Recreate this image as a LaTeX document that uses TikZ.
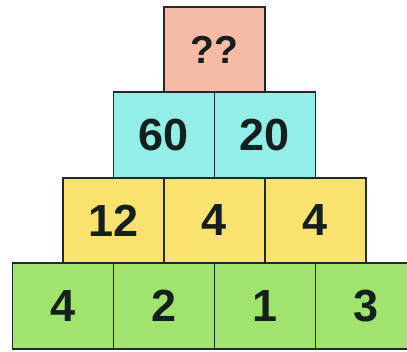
\documentclass[tikz,border=0pt]{standalone}
\usepackage{fontspec}
\setmainfont{Liberation Sans}
\definecolor{pinkc}{HTML}{F6BBA6}
\definecolor{cyanc}{HTML}{92EEE6}
\definecolor{yellowc}{HTML}{FAE26E}
\definecolor{greenc}{HTML}{A0E46E}
\definecolor{edgec}{HTML}{1E2A24}
\definecolor{textc}{HTML}{15201E}
\tikzset{
  cell/.style={draw=edgec, line width=1.6pt, minimum width=101pt, minimum height=85.5pt,
    inner sep=0pt, text=textc, font=\bfseries\fontsize{45}{45}\selectfont},
  qcell/.style={cell, font=\bfseries\fontsize{39}{39}\selectfont},
}
\begin{document}
\begin{tikzpicture}[x=1pt,y=-1pt]
\useasboundingbox (0,0) rectangle (407,352);
\fill[white] (0,0) rectangle (407,352);
\clip (0,0) rectangle (407,352);
% row 1
\node[qcell, fill=pinkc] (a1) at (214.5,49.5) {??};
% row 2
\node[cell, fill=cyanc] (b1) at (164,135) {60};
\node[cell, fill=cyanc] (b2) at (265,135) {20};
% row 3
\node[cell, fill=yellowc] (c1) at (113.5,220.5) {12};
\node[cell, fill=yellowc] (c2) at (214.5,220.5) {4};
\node[cell, fill=yellowc] (c3) at (315.5,220.5) {4};
% row 4
\node[cell, fill=greenc] (d1) at (63,306) {4};
\node[cell, fill=greenc] (d2) at (164,306) {2};
\node[cell, fill=greenc] (d3) at (265,306) {1};
\node[cell, fill=greenc] (d4) at (366,306) {3};
\end{tikzpicture}
\end{document}
